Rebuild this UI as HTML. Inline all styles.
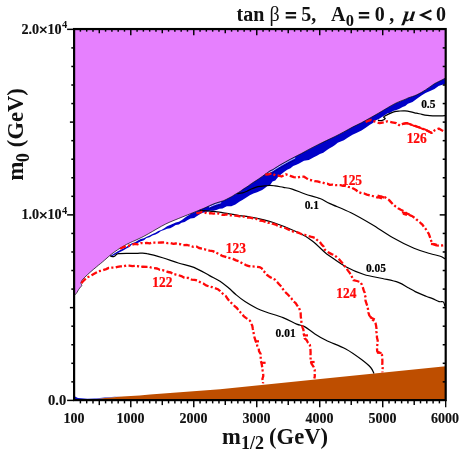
<!DOCTYPE html>
<html><head><meta charset="utf-8"><title>chart</title>
<style>
html,body{margin:0;padding:0;background:#fff;}
body{width:460px;height:457px;overflow:hidden;font-family:"Liberation Serif",serif;}
svg{display:block;will-change:transform;}
</style></head><body>
<svg width="460" height="457" viewBox="0 0 460 457">
<rect width="460" height="457" fill="#fff"/>
<path d="M74.1 29.1 L445.7 29.1 L445.7 77.8 L443.0 79.4 L438.6 81.6 L434.3 83.8 L429.9 86.9 L425.5 89.9 L421.1 92.6 L416.8 94.8 L412.4 96.5 L408.0 98.0 L405.0 99.4 L396.3 102.9 L387.5 107.8 L378.8 113.0 L370.0 118.0 L361.3 122.8 L352.5 127.1 L343.8 131.9 L335.0 136.5 L326.3 140.6 L317.5 144.9 L308.8 149.4 L304.0 152.1 L299.0 154.7 L290.3 159.2 L281.5 164.1 L275.0 168.1 L272.8 169.5 L270.0 170.8 L265.0 174.4 L260.0 178.0 L256.9 180.1 L251.3 183.7 L248.1 186.1 L242.5 189.6 L240.0 191.5 L233.8 195.2 L231.3 196.8 L225.0 200.0 L222.5 201.0 L213.8 203.8 L205.0 207.8 L196.3 211.4 L187.5 214.9 L178.8 218.4 L170.0 222.0 L161.3 226.3 L152.5 231.4 L143.8 236.3 L135.0 240.5 L130.6 242.4 L126.3 244.5 L121.9 247.1 L117.5 249.8 L113.1 252.9 L108.8 256.4 L104.4 260.3 L100.6 263.5 L96.3 267.0 L90.1 272.3 L84.9 277.1 L81.8 280.6 L81.0 283.4 L81.8 285.4 L80.5 287.1 L78.8 289.3 L77.0 292.4 L75.3 294.6 L74.3 295.2 Z" fill="#e680fe"/>
<path d="M190.0 214.2 L196.3 211.4 L205.0 207.8 L213.8 203.8 L222.5 201.0 L225.0 200.0 L231.3 196.8 L233.8 195.2 L240.0 191.5 L242.5 189.6 L248.1 186.1 L251.3 183.7 L256.9 180.1 L260.0 178.0 L265.0 174.4 L270.0 170.8 L272.8 169.5 L275.0 168.1 L281.5 164.1 L290.3 159.2 L299.0 154.7 L304.0 152.1 L308.8 149.4 L317.5 144.9 L326.3 140.6 L335.0 136.5 L343.8 131.9 L352.5 127.1 L361.3 122.8 L370.0 118.0 L378.8 113.0 L387.5 107.8 L396.3 102.9 L405.0 99.4 L408.0 98.0 L412.4 96.5 L416.8 94.8 L421.1 92.6 L425.5 89.9 L429.9 86.9 L434.3 83.8 L438.6 81.6 L443.0 79.4 L445.7 77.8 L445.7 84.5 L443.0 84.5 L438.6 86.0 L434.5 89.0 L430.1 91.1 L425.5 93.0 L421.1 95.7 L416.9 98.8 L412.5 102.0 L407.9 103.7 L405.2 106.0 L402.6 106.9 L399.5 108.7 L396.4 110.1 L393.0 110.9 L390.1 112.7 L387.3 113.6 L383.2 116.3 L378.8 119.0 L375.4 120.5 L372.9 123.0 L369.9 124.7 L365.7 127.8 L361.5 130.6 L356.9 132.8 L352.5 134.7 L348.0 137.4 L343.9 140.2 L340.1 141.7 L337.7 142.7 L335.0 144.9 L332.4 146.7 L329.2 148.5 L326.3 150.5 L323.3 152.7 L319.9 154.1 L317.3 155.5 L312.9 157.7 L308.8 160.1 L304.0 160.8 L299.1 163.6 L296.4 164.8 L293.2 165.9 L290.5 168.2 L287.2 169.8 L284.0 171.9 L281.2 174.2 L277.7 177.5 L275.3 180.6 L272.5 181.6 L270.3 184.7 L267.4 186.1 L265.0 187.9 L262.2 190.0 L257.1 192.3 L253.4 193.6 L249.8 195.2 L245.2 198.3 L242.4 199.9 L239.7 201.6 L235.4 204.6 L231.3 206.2 L226.8 206.3 L222.5 208.5 L219.5 208.8 L216.4 209.9 L213.1 210.7 L209.9 210.8 L205.0 212.2 L201.9 213.0 L198.6 215.0 L196.3 216.4 Z" fill="#0000c8"/>
<path d="M110.5 256.0 L113.4 253.9 L117.5 251.6 L120.3 249.9 L123.3 248.5 L126.3 246.9 L129.1 244.9 L131.9 243.2 L135.1 242.2 L137.9 240.5 L140.8 239.1 L143.9 238.3 L146.7 236.7 L149.7 235.6 L152.5 234.0 L155.5 232.7 L158.3 231.1 L161.3 229.9 L164.3 228.3 L167.1 226.3 L170.1 224.9 L173.0 223.7 L175.8 222.4 L178.9 221.8 L181.9 219.9 L184.8 217.8 L187.3 215.9 L192.0 213.2 L196.3 216.4 L194.2 217.9 L190.5 218.6 L187.3 220.3 L184.6 222.1 L181.5 222.7 L178.9 224.5 L175.7 225.0 L173.0 226.8 L170.2 228.2 L167.0 228.7 L164.1 229.9 L161.0 231.1 L158.4 233.1 L155.5 234.5 L152.4 235.6 L149.6 237.2 L146.5 238.1 L144.0 240.2 L140.9 241.2 L138.1 242.8 L135.0 243.7 L131.8 244.6 L129.4 247.1 L126.4 248.5 L123.6 250.3 L120.5 251.8 L117.6 253.3 L113.5 255.4 L110.5 257.0 Z" fill="#0000c8"/>
<path d="M74.3 295.2 C74.5 295.1 74.8 295.1 75.3 294.6 C75.8 294.1 76.4 293.3 77.0 292.4 C77.6 291.5 78.2 290.2 78.8 289.3 C79.4 288.4 80.0 287.8 80.5 287.1 C81.0 286.5 81.7 286.0 81.8 285.4 C81.9 284.8 81.0 284.2 81.0 283.4 C81.0 282.6 81.1 281.7 81.8 280.6 C82.5 279.6 83.5 278.5 84.9 277.1 C86.3 275.7 88.2 274.0 90.1 272.3 C92.0 270.6 94.5 268.5 96.3 267.0 C98.0 265.5 99.2 264.6 100.6 263.5 C101.9 262.4 103.0 261.5 104.4 260.3 C105.8 259.1 107.3 257.6 108.8 256.4 C110.2 255.2 111.6 254.0 113.1 252.9 C114.5 251.8 116.0 250.8 117.5 249.8 C119.0 248.8 120.4 248.0 121.9 247.1 C123.4 246.2 124.8 245.3 126.3 244.5 C127.8 243.7 129.2 243.1 130.6 242.4 C132.0 241.7 132.8 241.5 135.0 240.5 C137.2 239.5 140.9 237.8 143.8 236.3 C146.7 234.8 149.6 233.1 152.5 231.4 C155.4 229.7 158.4 227.9 161.3 226.3 C164.2 224.7 167.1 223.3 170.0 222.0 C172.9 220.7 175.9 219.6 178.8 218.4 C181.7 217.2 184.6 216.1 187.5 214.9 C190.4 213.7 193.4 212.6 196.3 211.4 C199.2 210.2 202.1 209.1 205.0 207.8 C207.9 206.5 210.9 204.9 213.8 203.8 C216.7 202.7 220.6 201.6 222.5 201.0 C224.4 200.4 223.5 200.7 225.0 200.0 C226.5 199.3 229.8 197.6 231.3 196.8 C232.8 196.0 232.4 196.1 233.8 195.2 C235.2 194.3 238.6 192.4 240.0 191.5 C241.4 190.6 241.2 190.5 242.5 189.6 C243.8 188.7 246.6 187.1 248.1 186.1 C249.6 185.1 249.8 184.7 251.3 183.7 C252.8 182.7 255.4 181.0 256.9 180.1 C258.3 179.2 258.6 178.9 260.0 178.0 C261.4 177.1 263.3 175.6 265.0 174.4 C266.7 173.2 268.7 171.6 270.0 170.8 C271.3 170.0 272.0 169.9 272.8 169.5 C273.6 169.1 273.6 169.0 275.0 168.1 C276.4 167.2 278.9 165.6 281.5 164.1 C284.1 162.6 287.4 160.8 290.3 159.2 C293.2 157.6 296.7 155.9 299.0 154.7 C301.3 153.5 302.4 153.0 304.0 152.1 C305.6 151.2 306.6 150.6 308.8 149.4 C311.1 148.2 314.6 146.4 317.5 144.9 C320.4 143.4 323.4 142.0 326.3 140.6 C329.2 139.2 332.1 137.9 335.0 136.5 C337.9 135.1 340.9 133.5 343.8 131.9 C346.7 130.3 349.6 128.6 352.5 127.1 C355.4 125.6 358.4 124.3 361.3 122.8 C364.2 121.3 367.1 119.6 370.0 118.0 C372.9 116.4 375.9 114.7 378.8 113.0 C381.7 111.3 384.6 109.5 387.5 107.8 C390.4 106.1 393.4 104.3 396.3 102.9 C399.2 101.5 403.1 100.2 405.0 99.4 C406.9 98.6 406.8 98.5 408.0 98.0 C409.2 97.5 410.9 97.0 412.4 96.5 C413.9 96.0 415.4 95.5 416.8 94.8 C418.2 94.1 419.7 93.4 421.1 92.6 C422.6 91.8 424.0 90.9 425.5 89.9 C427.0 89.0 428.4 87.9 429.9 86.9 C431.4 85.9 432.9 84.7 434.3 83.8 C435.8 82.9 437.2 82.3 438.6 81.6 C440.1 80.9 441.8 80.0 443.0 79.4 C444.2 78.8 445.2 78.1 445.7 77.8" fill="none" stroke="#000" stroke-width="0.7"/>
<path d="M268.5 173.1 L270.0 172.1 L272.8 170.8 L275.0 169.3 L276.8 168.2 L279.0 166.8 L281.5 165.3 L283.1 164.4 L284.9 163.4 L286.7 162.4 L288.5 161.4 L290.3 160.4 L292.6 159.3 L294.9 158.1" fill="none" stroke="#fff" stroke-width="0.9" stroke-linecap="round" opacity="0.9"/>
<path d="M268.5 175.1 L270.0 174.1 L272.8 172.8 L275.0 171.3 L276.8 170.2 L279.0 168.8 L281.5 167.3 L283.1 166.4 L284.9 165.4 L286.7 164.4 L288.5 163.4 L290.3 162.4 L292.6 161.3 L294.9 160.1" fill="none" stroke="#000" stroke-width="0.4" opacity="0.7"/>
<path d="M209.4 207.0 L211.6 206.0 L213.8 205.1 L216.1 204.2 L218.5 203.5 L220.8 202.8" fill="none" stroke="#fff" stroke-width="0.9" stroke-linecap="round" opacity="0.9"/>
<path d="M209.4 209.0 L211.6 208.0 L213.8 207.1 L216.1 206.2 L218.5 205.5 L220.8 204.8" fill="none" stroke="#000" stroke-width="0.4" opacity="0.7"/>
<path d="M86.0 400.5 L92.0 399.4 L104.8 398.0 L122.2 396.6 L139.6 395.4 L150.0 394.5 L180.0 392.2 L220.0 389.3 L330.0 378.0 L445.7 366.2 L445.7 400.5 Z" fill="#be4e00"/>
<path d="M75 396.6 L78 397.9 L87.4 398.8 L95 398.5 L104.8 397.5 L122.2 396.2 L104.8 397.9 L95 399.0 L89 399.9 L75 399.9 Z" fill="#0a10c8"/>
<path d="M377.9 120.2 C378.5 120.3 380.3 120.9 381.5 120.6 C382.7 120.3 384.8 119.2 385.2 118.6 C385.6 118.0 383.7 117.6 383.6 117.2 C383.6 116.8 383.5 116.9 384.9 116.1 C386.3 115.3 390.0 113.4 391.9 112.6 C393.8 111.8 394.9 111.6 396.3 111.3 C397.7 111.0 398.6 111.1 400.0 111.0 C401.4 110.9 403.2 110.8 405.0 110.9 C406.8 111.0 409.0 111.4 410.9 111.8 C412.8 112.2 414.6 112.8 416.4 113.2 C418.2 113.6 420.1 113.9 421.9 114.3 C423.7 114.7 425.6 115.1 427.4 115.4 C429.2 115.7 431.0 115.8 432.8 115.9 C434.6 116.0 436.3 115.9 438.3 115.9 C440.3 115.9 443.9 115.7 445.0 115.7" fill="none" stroke="#000" stroke-width="1.2" stroke-linejoin="round"/>
<path d="M237.3 193.6 C238.2 193.5 240.9 193.3 242.5 192.9 C244.1 192.5 245.4 191.8 246.9 191.2 C248.4 190.5 249.9 189.7 251.3 189.0 C252.8 188.3 254.2 187.7 255.6 187.3 C257.1 186.9 258.4 186.6 260.0 186.4 C261.6 186.2 263.3 186.1 265.0 185.9 C266.7 185.7 268.3 185.4 270.0 185.4 C271.7 185.4 272.8 185.6 275.0 185.9 C277.2 186.2 280.6 186.9 283.5 187.4 C286.4 187.9 288.6 188.0 292.2 189.1 C295.8 190.2 300.4 192.4 305.0 194.0 C309.6 195.6 315.8 196.9 320.0 198.5 C324.2 200.1 324.8 201.2 330.0 203.6 C335.2 206.0 344.0 209.3 351.0 212.8 C358.0 216.3 365.0 220.4 372.0 224.6 C379.0 228.8 386.0 233.9 393.0 237.8 C400.0 241.8 407.9 245.7 414.0 248.3 C420.1 250.9 425.4 252.2 429.8 253.5 C434.2 254.8 437.8 255.3 440.3 256.2 C442.8 257.1 444.2 258.4 445.0 258.8" fill="none" stroke="#000" stroke-width="1.2" stroke-linejoin="round"/>
<path d="M199.6 210.3 C201.9 210.5 209.7 211.0 213.5 211.4 C217.3 211.8 217.8 211.9 222.2 212.6 C226.5 213.3 235.0 214.9 239.6 215.6 C244.2 216.3 244.5 215.9 250.0 217.0 C255.5 218.1 264.4 219.7 272.5 222.3 C280.6 224.9 292.2 229.7 298.8 232.8 C305.4 235.9 307.6 237.4 312.0 240.7 C316.4 244.0 322.0 249.9 325.0 252.5 C328.0 255.1 326.5 253.8 330.0 256.2 C333.5 258.6 340.1 263.6 345.8 266.7 C351.5 269.8 357.9 272.5 364.0 274.5 C370.1 276.5 376.8 277.2 382.5 278.5 C388.2 279.8 393.9 280.8 398.3 282.4 C402.7 284.0 406.0 286.5 408.8 288.0 C411.6 289.5 412.3 290.2 415.2 291.6 C418.1 293.0 423.2 295.1 426.1 296.3 C429.0 297.5 430.4 297.7 432.6 298.6 C434.8 299.5 437.3 301.1 439.1 301.6 C440.9 302.2 442.3 301.1 443.3 301.9 C444.3 302.7 444.7 305.7 445.0 306.5" fill="none" stroke="#000" stroke-width="1.2" stroke-linejoin="round"/>
<path d="M110.3 255.6 C110.6 255.8 111.5 256.5 112.2 256.6 C112.9 256.7 114.0 256.5 114.6 256.2 C115.2 255.9 115.2 255.4 115.8 255.0 C116.4 254.6 116.7 254.0 118.4 253.7 C120.2 253.4 123.5 253.4 126.3 253.4 C129.1 253.4 132.7 253.4 135.0 253.4 C137.3 253.4 138.0 253.2 140.0 253.2 C142.0 253.2 143.2 252.8 147.0 253.6 C150.8 254.3 157.4 256.1 162.6 257.7 C167.8 259.3 173.1 261.4 178.3 263.0 C183.5 264.6 188.7 265.3 193.9 267.4 C199.1 269.5 205.2 273.3 209.6 275.6 C213.9 277.9 216.8 279.1 220.0 281.2 C223.2 283.3 226.1 285.8 228.7 288.0 C231.3 290.2 233.1 292.2 235.8 294.5 C238.5 296.8 240.9 298.9 245.0 301.5 C249.1 304.1 254.2 307.3 260.5 310.0 C266.8 312.7 277.0 315.2 283.0 317.6 C289.0 320.0 293.1 322.6 296.7 324.1 C300.3 325.6 301.6 325.0 304.5 326.6 C307.4 328.2 310.7 331.2 314.3 333.5 C317.9 335.8 320.8 337.7 326.0 340.3 C331.2 342.9 339.9 345.8 345.8 349.0 C351.7 352.2 357.4 356.5 361.5 359.6 C365.6 362.7 368.6 365.2 370.7 367.5 C372.8 369.8 373.4 372.5 374.0 373.5" fill="none" stroke="#000" stroke-width="1.2" stroke-linejoin="round"/>
<path d="M81.4 283.2 L82.8 281.5 L85.0 279.4 L87.2 277.4 L90.3 276.2 L93.3 274.2 L96.4 272.5 L98.8 271.2 L101.6 270.7 L103.8 269.9 L106.2 269.1 L108.7 267.9 L111.6 267.7 L114.6 267.7 L117.5 266.9 L120.4 266.3 L123.4 266.3 L126.3 265.6 L129.3 265.7 L132.4 266.1 L135.0 265.9 L137.6 266.1 L140.0 267.1 L142.8 266.6 L147.0 266.9 L149.2 266.8 L151.5 267.7 L154.3 268.1 L157.1 268.5 L159.8 269.8 L162.6 270.1 L165.3 270.8 L167.9 272.0 L170.8 272.5 L173.3 274.0 L175.9 274.6 L178.3 275.1 L181.3 276.1 L183.8 277.5 L186.3 277.9 L188.8 278.0 L191.6 279.6 L194.6 279.8 L197.5 280.6 L200.3 282.2 L203.3 283.5 L206.0 285.4 L209.1 286.4 L212.2 287.1 L214.8 288.0 L217.8 289.2 L219.9 290.8 L223.3 294.3 L225.7 295.9 L227.8 299.1 L229.2 300.8 L231.0 302.7 L233.1 304.4 L234.9 306.4 L236.9 308.0 L238.6 310.3 L240.4 312.3 L242.4 314.0 L243.6 316.1 L245.9 317.9 L248.0 319.3 L249.9 320.6 L251.1 323.2 L252.3 325.8 L252.8 328.7 L253.5 332.2 L253.9 335.3 L254.7 338.2 L255.7 341.3 L256.6 343.3 L257.3 345.9 L258.7 348.3 L259.0 351.1 L260.6 353.9 L260.7 357.2 L260.6 360.3 L261.4 362.8 L261.9 365.2 L262.3 368.0 L262.6 370.2 L263.1 372.9 L263.3 376.0 L262.4 379.0 L263.1 381.6 L263.0 383.4" fill="none" stroke="#ff0808" stroke-width="2.3" stroke-dasharray="6.3 2.2 2.1 2.4" stroke-linejoin="round"/>
<path d="M120.1 248.8 L122.8 247.4 L126.2 246.2 L130.6 245.2 L134.9 243.9 L137.7 244.3 L140.7 243.1 L143.8 243.3 L146.7 242.9 L149.6 243.3 L152.5 242.5 L155.4 242.6 L158.4 242.6 L161.3 242.5 L164.4 242.4 L167.5 243.1 L170.0 242.9 L173.5 243.8 L175.7 243.5 L178.3 243.9 L181.1 244.3 L183.4 245.1 L187.2 245.0 L190.6 245.8 L193.3 246.9 L196.5 246.6 L199.0 248.0 L202.0 248.6 L204.6 249.2 L206.9 250.2 L209.5 250.7 L212.9 251.1 L215.9 252.6 L220.1 254.7 L222.1 255.8 L224.8 256.6 L227.6 257.7 L230.6 258.1 L233.0 258.9 L236.1 260.4 L238.7 261.2 L240.9 262.4 L243.6 263.8 L245.9 265.1 L248.8 266.1 L252.0 266.4 L255.6 266.6 L259.4 267.1 L261.7 268.3 L263.1 270.9 L265.6 272.7 L267.1 275.0 L269.6 276.9 L272.3 278.2 L275.2 279.8 L277.1 281.9 L279.1 284.3 L281.3 286.6 L283.0 289.3 L284.9 291.7 L287.1 293.8 L289.2 296.0 L291.3 298.2 L293.0 301.0 L295.7 303.2 L297.4 305.8 L299.0 307.8 L300.6 312.0 L300.7 314.3 L300.8 317.1 L301.4 320.0 L301.4 322.5 L301.9 325.2 L302.7 327.8 L303.5 330.0 L303.4 333.1 L304.3 335.9 L304.7 338.3 L306.7 340.2 L308.0 342.7 L309.8 344.8 L310.3 347.5 L310.5 350.1 L310.6 352.7 L310.5 355.0 L310.6 358.3 L310.7 361.5 L311.8 364.2 L313.6 366.9 L314.7 369.9 L314.7 373.1 L314.8 376.3 L314.3 378.5" fill="none" stroke="#ff0808" stroke-width="2.3" stroke-dasharray="6.3 2.2 2.1 2.4" stroke-linejoin="round"/>
<path d="M196.3 213.2 L198.8 213.0 L201.5 212.0 L205.1 212.6 L207.4 213.5 L210.5 213.1 L213.5 213.7 L216.1 213.2 L218.7 213.5 L222.1 214.8 L224.2 214.9 L226.8 214.4 L229.4 215.2 L232.2 215.5 L234.9 215.7 L237.5 215.9 L239.6 216.4 L242.4 216.5 L244.5 216.7 L246.7 217.6 L250.0 217.7 L252.1 218.1 L254.4 218.7 L257.1 219.1 L259.7 220.5 L262.7 220.9 L265.4 221.8 L267.9 222.8 L270.6 222.6 L272.5 223.7 L275.7 224.6 L277.6 225.7 L279.7 226.5 L283.0 227.5 L285.3 228.0 L287.7 229.2 L290.4 230.4 L293.3 231.6 L296.5 232.1 L299.5 233.2 L302.1 234.3 L304.7 234.8 L306.7 235.4 L310.6 236.7 L312.7 237.1 L314.7 237.8 L317.0 239.9 L319.8 241.9 L321.7 244.6 L323.9 246.8 L324.8 249.7 L327.2 251.3 L329.2 252.9 L331.6 254.1 L333.9 255.0 L336.6 257.0 L339.1 259.3 L340.8 261.2 L342.5 263.3 L344.1 265.5 L346.1 267.9 L348.0 270.6 L349.9 273.1 L351.4 275.5 L352.3 277.9 L353.4 280.2 L356.9 281.0 L360.4 282.1 L361.7 284.3 L362.7 287.0 L363.7 290.4 L364.6 292.5 L364.9 295.1 L365.8 297.7 L365.5 300.7 L366.4 303.3 L367.2 305.7 L368.0 309.1 L368.4 312.5 L369.3 315.4 L370.9 317.4 L372.4 319.6 L374.8 321.4 L375.6 323.4 L376.1 325.8 L376.5 328.7 L376.4 331.7 L377.0 334.6 L376.9 337.3 L377.7 340.5 L377.6 343.8 L376.8 346.9 L377.1 349.7 L377.3 351.7 L381.0 353.2 L382.0 354.9 L382.2 357.8 L382.4 361.0 L382.3 364.5 L382.7 367.7 L382.4 370.5 L382.5 372.4" fill="none" stroke="#ff0808" stroke-width="2.3" stroke-dasharray="6.3 2.2 2.1 2.4" stroke-linejoin="round"/>
<path d="M265.3 174.5 L268.4 174.4 L271.9 173.3 L275.3 175.2 L278.4 175.6 L281.5 176.5 L285.9 174.4 L290.3 175.9 L293.8 177.2 L297.3 177.5 L301.7 176.5 L304.1 176.7 L306.7 178.4 L309.5 179.9 L312.0 180.4 L314.6 181.2 L317.4 181.4 L320.0 182.2 L322.6 182.5 L325.0 183.5 L327.5 183.7 L329.9 184.9 L332.7 184.6 L335.4 185.1 L338.0 185.1 L340.5 185.2 L343.1 185.9 L345.4 185.9 L348.3 186.9 L350.8 187.3 L353.3 188.6 L356.0 190.0 L358.5 192.1 L361.5 193.1 L364.2 193.5 L366.9 194.6 L369.7 195.4 L372.5 196.0 L375.1 196.7 L377.3 197.5 L380.3 196.8 L382.5 196.6 L384.9 197.2 L386.7 198.6 L389.1 200.1 L391.2 202.4 L393.3 204.6 L395.5 206.4 L398.1 208.3 L400.8 209.8 L403.5 211.0 L405.9 212.9 L408.1 214.0 L410.2 215.4 L412.5 216.3 L414.5 217.8 L416.5 219.6 L418.6 220.9 L420.4 222.8 L422.4 224.6 L423.9 226.9 L425.7 228.9 L426.9 231.3 L428.8 233.8 L429.9 236.9 L430.9 239.9 L431.8 242.7 L433.8 244.1 L436.5 245.4 L439.8 245.6 L442.9 245.4 L445.0 245.1" fill="none" stroke="#ff0808" stroke-width="2.3" stroke-dasharray="6.3 2.2 2.1 2.4" stroke-linejoin="round"/>
<path d="M365.6 121.9 L368.7 120.7 L371.3 119.8 L375.3 121.8 L379.6 123.2 L384.0 122.2 L387.5 121.3 L392.0 122.3 L396.4 123.2 L400.0 125.7 L403.1 123.7 L406.6 123.2 L410.9 124.5 L413.6 125.2 L416.3 126.5 L419.2 127.3 L421.9 128.4 L424.6 129.9 L427.4 130.7 L431.7 132.9 L434.7 130.3 L438.8 128.6 L441.7 130.2 L445.0 131.8" fill="none" stroke="#ff0808" stroke-width="2.3" stroke-dasharray="6.3 2.2 2.1 2.4" stroke-linejoin="round"/>
<path d="M403.3 124.1 L406.6 123.0 L410.9 124.5 L413.5 125.7 L416.4 126.3 L419.1 127.4 L421.9 128.6 L424.8 129.4 L427.4 130.7 L431.7 132.9" fill="none" stroke="#ff0808" stroke-width="1.9" stroke-linejoin="round" stroke-linecap="round"/>
<line x1="255.4" y1="341.3" x2="259.0" y2="341.3" stroke="#ff0808" stroke-width="2.2"/>
<line x1="261.2" y1="362.8" x2="265.6" y2="362.8" stroke="#ff0808" stroke-width="2.2"/>
<line x1="303.0" y1="335.4" x2="308.0" y2="335.4" stroke="#ff0808" stroke-width="2.2"/>
<line x1="310.2" y1="362.0" x2="314.6" y2="362.0" stroke="#ff0808" stroke-width="2.2"/>
<line x1="370.2" y1="317.2" x2="374.8" y2="319.4" stroke="#ff0808" stroke-width="2.2"/>
<line x1="377.0" y1="352.6" x2="381.6" y2="353.0" stroke="#ff0808" stroke-width="2.2"/>
<line x1="377.5" y1="195.6" x2="384.5" y2="197.6" stroke="#ff0808" stroke-width="2.2"/>
<line x1="377.8" y1="197.0" x2="382.0" y2="198.4" stroke="#ff0808" stroke-width="2.2"/>
<line x1="402.0" y1="212.2" x2="409.5" y2="214.4" stroke="#ff0808" stroke-width="2.2"/>
<line x1="403.0" y1="213.6" x2="407.0" y2="215.0" stroke="#ff0808" stroke-width="2.2"/>
<line x1="431.0" y1="243.8" x2="437.0" y2="244.8" stroke="#ff0808" stroke-width="2.2"/>
<line x1="80.40" y1="400.10" x2="80.40" y2="403.40" stroke="#000" stroke-width="1.45"/>
<line x1="80.40" y1="29.05" x2="80.40" y2="31.65" stroke="#000" stroke-width="1.45"/>
<line x1="86.70" y1="400.10" x2="86.70" y2="403.40" stroke="#000" stroke-width="1.45"/>
<line x1="86.70" y1="29.05" x2="86.70" y2="31.65" stroke="#000" stroke-width="1.45"/>
<line x1="92.99" y1="400.10" x2="92.99" y2="403.40" stroke="#000" stroke-width="1.45"/>
<line x1="92.99" y1="29.05" x2="92.99" y2="31.65" stroke="#000" stroke-width="1.45"/>
<line x1="99.29" y1="400.10" x2="99.29" y2="405.10" stroke="#000" stroke-width="1.45"/>
<line x1="99.29" y1="29.05" x2="99.29" y2="33.25" stroke="#000" stroke-width="1.45"/>
<line x1="105.59" y1="400.10" x2="105.59" y2="403.40" stroke="#000" stroke-width="1.45"/>
<line x1="105.59" y1="29.05" x2="105.59" y2="31.65" stroke="#000" stroke-width="1.45"/>
<line x1="111.89" y1="400.10" x2="111.89" y2="403.40" stroke="#000" stroke-width="1.45"/>
<line x1="111.89" y1="29.05" x2="111.89" y2="31.65" stroke="#000" stroke-width="1.45"/>
<line x1="118.19" y1="400.10" x2="118.19" y2="403.40" stroke="#000" stroke-width="1.45"/>
<line x1="118.19" y1="29.05" x2="118.19" y2="31.65" stroke="#000" stroke-width="1.45"/>
<line x1="124.49" y1="400.10" x2="124.49" y2="403.40" stroke="#000" stroke-width="1.45"/>
<line x1="124.49" y1="29.05" x2="124.49" y2="31.65" stroke="#000" stroke-width="1.45"/>
<line x1="130.78" y1="400.10" x2="130.78" y2="407.30" stroke="#000" stroke-width="1.45"/>
<line x1="130.78" y1="29.05" x2="130.78" y2="35.25" stroke="#000" stroke-width="1.45"/>
<line x1="137.08" y1="400.10" x2="137.08" y2="403.40" stroke="#000" stroke-width="1.45"/>
<line x1="137.08" y1="29.05" x2="137.08" y2="31.65" stroke="#000" stroke-width="1.45"/>
<line x1="143.38" y1="400.10" x2="143.38" y2="403.40" stroke="#000" stroke-width="1.45"/>
<line x1="143.38" y1="29.05" x2="143.38" y2="31.65" stroke="#000" stroke-width="1.45"/>
<line x1="149.68" y1="400.10" x2="149.68" y2="403.40" stroke="#000" stroke-width="1.45"/>
<line x1="149.68" y1="29.05" x2="149.68" y2="31.65" stroke="#000" stroke-width="1.45"/>
<line x1="155.98" y1="400.10" x2="155.98" y2="403.40" stroke="#000" stroke-width="1.45"/>
<line x1="155.98" y1="29.05" x2="155.98" y2="31.65" stroke="#000" stroke-width="1.45"/>
<line x1="162.28" y1="400.10" x2="162.28" y2="405.10" stroke="#000" stroke-width="1.45"/>
<line x1="162.28" y1="29.05" x2="162.28" y2="33.25" stroke="#000" stroke-width="1.45"/>
<line x1="168.57" y1="400.10" x2="168.57" y2="403.40" stroke="#000" stroke-width="1.45"/>
<line x1="168.57" y1="29.05" x2="168.57" y2="31.65" stroke="#000" stroke-width="1.45"/>
<line x1="174.87" y1="400.10" x2="174.87" y2="403.40" stroke="#000" stroke-width="1.45"/>
<line x1="174.87" y1="29.05" x2="174.87" y2="31.65" stroke="#000" stroke-width="1.45"/>
<line x1="181.17" y1="400.10" x2="181.17" y2="403.40" stroke="#000" stroke-width="1.45"/>
<line x1="181.17" y1="29.05" x2="181.17" y2="31.65" stroke="#000" stroke-width="1.45"/>
<line x1="187.47" y1="400.10" x2="187.47" y2="403.40" stroke="#000" stroke-width="1.45"/>
<line x1="187.47" y1="29.05" x2="187.47" y2="31.65" stroke="#000" stroke-width="1.45"/>
<line x1="193.77" y1="400.10" x2="193.77" y2="407.30" stroke="#000" stroke-width="1.45"/>
<line x1="193.77" y1="29.05" x2="193.77" y2="35.25" stroke="#000" stroke-width="1.45"/>
<line x1="200.07" y1="400.10" x2="200.07" y2="403.40" stroke="#000" stroke-width="1.45"/>
<line x1="200.07" y1="29.05" x2="200.07" y2="31.65" stroke="#000" stroke-width="1.45"/>
<line x1="206.36" y1="400.10" x2="206.36" y2="403.40" stroke="#000" stroke-width="1.45"/>
<line x1="206.36" y1="29.05" x2="206.36" y2="31.65" stroke="#000" stroke-width="1.45"/>
<line x1="212.66" y1="400.10" x2="212.66" y2="403.40" stroke="#000" stroke-width="1.45"/>
<line x1="212.66" y1="29.05" x2="212.66" y2="31.65" stroke="#000" stroke-width="1.45"/>
<line x1="218.96" y1="400.10" x2="218.96" y2="403.40" stroke="#000" stroke-width="1.45"/>
<line x1="218.96" y1="29.05" x2="218.96" y2="31.65" stroke="#000" stroke-width="1.45"/>
<line x1="225.26" y1="400.10" x2="225.26" y2="405.10" stroke="#000" stroke-width="1.45"/>
<line x1="225.26" y1="29.05" x2="225.26" y2="33.25" stroke="#000" stroke-width="1.45"/>
<line x1="231.56" y1="400.10" x2="231.56" y2="403.40" stroke="#000" stroke-width="1.45"/>
<line x1="231.56" y1="29.05" x2="231.56" y2="31.65" stroke="#000" stroke-width="1.45"/>
<line x1="237.86" y1="400.10" x2="237.86" y2="403.40" stroke="#000" stroke-width="1.45"/>
<line x1="237.86" y1="29.05" x2="237.86" y2="31.65" stroke="#000" stroke-width="1.45"/>
<line x1="244.15" y1="400.10" x2="244.15" y2="403.40" stroke="#000" stroke-width="1.45"/>
<line x1="244.15" y1="29.05" x2="244.15" y2="31.65" stroke="#000" stroke-width="1.45"/>
<line x1="250.45" y1="400.10" x2="250.45" y2="403.40" stroke="#000" stroke-width="1.45"/>
<line x1="250.45" y1="29.05" x2="250.45" y2="31.65" stroke="#000" stroke-width="1.45"/>
<line x1="256.75" y1="400.10" x2="256.75" y2="407.30" stroke="#000" stroke-width="1.45"/>
<line x1="256.75" y1="29.05" x2="256.75" y2="35.25" stroke="#000" stroke-width="1.45"/>
<line x1="263.05" y1="400.10" x2="263.05" y2="403.40" stroke="#000" stroke-width="1.45"/>
<line x1="263.05" y1="29.05" x2="263.05" y2="31.65" stroke="#000" stroke-width="1.45"/>
<line x1="269.35" y1="400.10" x2="269.35" y2="403.40" stroke="#000" stroke-width="1.45"/>
<line x1="269.35" y1="29.05" x2="269.35" y2="31.65" stroke="#000" stroke-width="1.45"/>
<line x1="275.65" y1="400.10" x2="275.65" y2="403.40" stroke="#000" stroke-width="1.45"/>
<line x1="275.65" y1="29.05" x2="275.65" y2="31.65" stroke="#000" stroke-width="1.45"/>
<line x1="281.94" y1="400.10" x2="281.94" y2="403.40" stroke="#000" stroke-width="1.45"/>
<line x1="281.94" y1="29.05" x2="281.94" y2="31.65" stroke="#000" stroke-width="1.45"/>
<line x1="288.24" y1="400.10" x2="288.24" y2="405.10" stroke="#000" stroke-width="1.45"/>
<line x1="288.24" y1="29.05" x2="288.24" y2="33.25" stroke="#000" stroke-width="1.45"/>
<line x1="294.54" y1="400.10" x2="294.54" y2="403.40" stroke="#000" stroke-width="1.45"/>
<line x1="294.54" y1="29.05" x2="294.54" y2="31.65" stroke="#000" stroke-width="1.45"/>
<line x1="300.84" y1="400.10" x2="300.84" y2="403.40" stroke="#000" stroke-width="1.45"/>
<line x1="300.84" y1="29.05" x2="300.84" y2="31.65" stroke="#000" stroke-width="1.45"/>
<line x1="307.14" y1="400.10" x2="307.14" y2="403.40" stroke="#000" stroke-width="1.45"/>
<line x1="307.14" y1="29.05" x2="307.14" y2="31.65" stroke="#000" stroke-width="1.45"/>
<line x1="313.44" y1="400.10" x2="313.44" y2="403.40" stroke="#000" stroke-width="1.45"/>
<line x1="313.44" y1="29.05" x2="313.44" y2="31.65" stroke="#000" stroke-width="1.45"/>
<line x1="319.73" y1="400.10" x2="319.73" y2="407.30" stroke="#000" stroke-width="1.45"/>
<line x1="319.73" y1="29.05" x2="319.73" y2="35.25" stroke="#000" stroke-width="1.45"/>
<line x1="326.03" y1="400.10" x2="326.03" y2="403.40" stroke="#000" stroke-width="1.45"/>
<line x1="326.03" y1="29.05" x2="326.03" y2="31.65" stroke="#000" stroke-width="1.45"/>
<line x1="332.33" y1="400.10" x2="332.33" y2="403.40" stroke="#000" stroke-width="1.45"/>
<line x1="332.33" y1="29.05" x2="332.33" y2="31.65" stroke="#000" stroke-width="1.45"/>
<line x1="338.63" y1="400.10" x2="338.63" y2="403.40" stroke="#000" stroke-width="1.45"/>
<line x1="338.63" y1="29.05" x2="338.63" y2="31.65" stroke="#000" stroke-width="1.45"/>
<line x1="344.93" y1="400.10" x2="344.93" y2="403.40" stroke="#000" stroke-width="1.45"/>
<line x1="344.93" y1="29.05" x2="344.93" y2="31.65" stroke="#000" stroke-width="1.45"/>
<line x1="351.23" y1="400.10" x2="351.23" y2="405.10" stroke="#000" stroke-width="1.45"/>
<line x1="351.23" y1="29.05" x2="351.23" y2="33.25" stroke="#000" stroke-width="1.45"/>
<line x1="357.52" y1="400.10" x2="357.52" y2="403.40" stroke="#000" stroke-width="1.45"/>
<line x1="357.52" y1="29.05" x2="357.52" y2="31.65" stroke="#000" stroke-width="1.45"/>
<line x1="363.82" y1="400.10" x2="363.82" y2="403.40" stroke="#000" stroke-width="1.45"/>
<line x1="363.82" y1="29.05" x2="363.82" y2="31.65" stroke="#000" stroke-width="1.45"/>
<line x1="370.12" y1="400.10" x2="370.12" y2="403.40" stroke="#000" stroke-width="1.45"/>
<line x1="370.12" y1="29.05" x2="370.12" y2="31.65" stroke="#000" stroke-width="1.45"/>
<line x1="376.42" y1="400.10" x2="376.42" y2="403.40" stroke="#000" stroke-width="1.45"/>
<line x1="376.42" y1="29.05" x2="376.42" y2="31.65" stroke="#000" stroke-width="1.45"/>
<line x1="382.72" y1="400.10" x2="382.72" y2="407.30" stroke="#000" stroke-width="1.45"/>
<line x1="382.72" y1="29.05" x2="382.72" y2="35.25" stroke="#000" stroke-width="1.45"/>
<line x1="389.02" y1="400.10" x2="389.02" y2="403.40" stroke="#000" stroke-width="1.45"/>
<line x1="389.02" y1="29.05" x2="389.02" y2="31.65" stroke="#000" stroke-width="1.45"/>
<line x1="395.31" y1="400.10" x2="395.31" y2="403.40" stroke="#000" stroke-width="1.45"/>
<line x1="395.31" y1="29.05" x2="395.31" y2="31.65" stroke="#000" stroke-width="1.45"/>
<line x1="401.61" y1="400.10" x2="401.61" y2="403.40" stroke="#000" stroke-width="1.45"/>
<line x1="401.61" y1="29.05" x2="401.61" y2="31.65" stroke="#000" stroke-width="1.45"/>
<line x1="407.91" y1="400.10" x2="407.91" y2="403.40" stroke="#000" stroke-width="1.45"/>
<line x1="407.91" y1="29.05" x2="407.91" y2="31.65" stroke="#000" stroke-width="1.45"/>
<line x1="414.21" y1="400.10" x2="414.21" y2="405.10" stroke="#000" stroke-width="1.45"/>
<line x1="414.21" y1="29.05" x2="414.21" y2="33.25" stroke="#000" stroke-width="1.45"/>
<line x1="420.51" y1="400.10" x2="420.51" y2="403.40" stroke="#000" stroke-width="1.45"/>
<line x1="420.51" y1="29.05" x2="420.51" y2="31.65" stroke="#000" stroke-width="1.45"/>
<line x1="426.81" y1="400.10" x2="426.81" y2="403.40" stroke="#000" stroke-width="1.45"/>
<line x1="426.81" y1="29.05" x2="426.81" y2="31.65" stroke="#000" stroke-width="1.45"/>
<line x1="433.10" y1="400.10" x2="433.10" y2="403.40" stroke="#000" stroke-width="1.45"/>
<line x1="433.10" y1="29.05" x2="433.10" y2="31.65" stroke="#000" stroke-width="1.45"/>
<line x1="439.40" y1="400.10" x2="439.40" y2="403.40" stroke="#000" stroke-width="1.45"/>
<line x1="439.40" y1="29.05" x2="439.40" y2="31.65" stroke="#000" stroke-width="1.45"/>
<line x1="445.70" y1="400.10" x2="445.70" y2="407.30" stroke="#000" stroke-width="1.30"/>
<line x1="74.10" y1="400.40" x2="67.10" y2="400.40" stroke="#000" stroke-width="1.50"/>
<line x1="74.10" y1="381.85" x2="71.30" y2="381.85" stroke="#000" stroke-width="1.50"/>
<line x1="445.70" y1="381.85" x2="442.70" y2="381.85" stroke="#000" stroke-width="1.50"/>
<line x1="74.10" y1="363.30" x2="71.30" y2="363.30" stroke="#000" stroke-width="1.50"/>
<line x1="445.70" y1="363.30" x2="442.70" y2="363.30" stroke="#000" stroke-width="1.50"/>
<line x1="74.10" y1="344.74" x2="71.30" y2="344.74" stroke="#000" stroke-width="1.50"/>
<line x1="445.70" y1="344.74" x2="442.70" y2="344.74" stroke="#000" stroke-width="1.50"/>
<line x1="74.10" y1="326.19" x2="71.30" y2="326.19" stroke="#000" stroke-width="1.50"/>
<line x1="445.70" y1="326.19" x2="442.70" y2="326.19" stroke="#000" stroke-width="1.50"/>
<line x1="74.10" y1="307.64" x2="69.90" y2="307.64" stroke="#000" stroke-width="1.50"/>
<line x1="445.70" y1="307.64" x2="442.70" y2="307.64" stroke="#000" stroke-width="1.50"/>
<line x1="74.10" y1="289.09" x2="71.30" y2="289.09" stroke="#000" stroke-width="1.50"/>
<line x1="445.70" y1="289.09" x2="442.70" y2="289.09" stroke="#000" stroke-width="1.50"/>
<line x1="74.10" y1="270.53" x2="71.30" y2="270.53" stroke="#000" stroke-width="1.50"/>
<line x1="445.70" y1="270.53" x2="442.70" y2="270.53" stroke="#000" stroke-width="1.50"/>
<line x1="74.10" y1="251.98" x2="71.30" y2="251.98" stroke="#000" stroke-width="1.50"/>
<line x1="445.70" y1="251.98" x2="442.70" y2="251.98" stroke="#000" stroke-width="1.50"/>
<line x1="74.10" y1="233.43" x2="71.30" y2="233.43" stroke="#000" stroke-width="1.50"/>
<line x1="445.70" y1="233.43" x2="442.70" y2="233.43" stroke="#000" stroke-width="1.50"/>
<line x1="74.10" y1="214.88" x2="67.10" y2="214.88" stroke="#000" stroke-width="1.50"/>
<line x1="445.70" y1="214.88" x2="439.70" y2="214.88" stroke="#000" stroke-width="1.50"/>
<line x1="74.10" y1="196.32" x2="71.30" y2="196.32" stroke="#000" stroke-width="1.50"/>
<line x1="445.70" y1="196.32" x2="442.70" y2="196.32" stroke="#000" stroke-width="1.50"/>
<line x1="74.10" y1="177.77" x2="71.30" y2="177.77" stroke="#000" stroke-width="1.50"/>
<line x1="445.70" y1="177.77" x2="442.70" y2="177.77" stroke="#000" stroke-width="1.50"/>
<line x1="74.10" y1="159.22" x2="71.30" y2="159.22" stroke="#000" stroke-width="1.50"/>
<line x1="445.70" y1="159.22" x2="442.70" y2="159.22" stroke="#000" stroke-width="1.50"/>
<line x1="74.10" y1="140.67" x2="71.30" y2="140.67" stroke="#000" stroke-width="1.50"/>
<line x1="445.70" y1="140.67" x2="442.70" y2="140.67" stroke="#000" stroke-width="1.50"/>
<line x1="74.10" y1="122.11" x2="69.90" y2="122.11" stroke="#000" stroke-width="1.50"/>
<line x1="445.70" y1="122.11" x2="442.70" y2="122.11" stroke="#000" stroke-width="1.50"/>
<line x1="74.10" y1="103.56" x2="71.30" y2="103.56" stroke="#000" stroke-width="1.50"/>
<line x1="445.70" y1="103.56" x2="442.70" y2="103.56" stroke="#000" stroke-width="1.50"/>
<line x1="74.10" y1="85.01" x2="71.30" y2="85.01" stroke="#000" stroke-width="1.50"/>
<line x1="445.70" y1="85.01" x2="442.70" y2="85.01" stroke="#000" stroke-width="1.50"/>
<line x1="74.10" y1="66.46" x2="71.30" y2="66.46" stroke="#000" stroke-width="1.50"/>
<line x1="445.70" y1="66.46" x2="442.70" y2="66.46" stroke="#000" stroke-width="1.50"/>
<line x1="74.10" y1="47.90" x2="71.30" y2="47.90" stroke="#000" stroke-width="1.50"/>
<line x1="445.70" y1="47.90" x2="442.70" y2="47.90" stroke="#000" stroke-width="1.50"/>
<line x1="74.10" y1="29.35" x2="67.10" y2="29.35" stroke="#000" stroke-width="1.50"/>
<rect x="74.10" y="29.05" width="371.60" height="371.05" fill="none" stroke="#000" stroke-width="2.2"/>
<text x="73.9" y="422.8" font-family="Liberation Serif, serif" font-weight="bold" font-size="14.0" text-anchor="middle" fill="#111" stroke="#111" stroke-width="0.15">100</text>
<text x="130.6" y="422.8" font-family="Liberation Serif, serif" font-weight="bold" font-size="14.0" text-anchor="middle" fill="#111" stroke="#111" stroke-width="0.15">1000</text>
<text x="193.6" y="422.8" font-family="Liberation Serif, serif" font-weight="bold" font-size="14.0" text-anchor="middle" fill="#111" stroke="#111" stroke-width="0.15">2000</text>
<text x="256.6" y="422.8" font-family="Liberation Serif, serif" font-weight="bold" font-size="14.0" text-anchor="middle" fill="#111" stroke="#111" stroke-width="0.15">3000</text>
<text x="319.5" y="422.8" font-family="Liberation Serif, serif" font-weight="bold" font-size="14.0" text-anchor="middle" fill="#111" stroke="#111" stroke-width="0.15">4000</text>
<text x="382.5" y="422.8" font-family="Liberation Serif, serif" font-weight="bold" font-size="14.0" text-anchor="middle" fill="#111" stroke="#111" stroke-width="0.15">5000</text>
<text x="444.9" y="422.8" font-family="Liberation Serif, serif" font-weight="bold" font-size="14.0" text-anchor="middle" fill="#111" stroke="#111" stroke-width="0.15">6000</text>
<text x="66.2" y="405.1" font-family="Liberation Serif, serif" font-weight="bold" font-size="14.6" text-anchor="end" fill="#111" stroke="#111" stroke-width="0.15">0.0</text>
<text x="61.7" y="219.3" font-family="Liberation Serif, serif" font-weight="bold" font-size="14.2" text-anchor="end" fill="#111" stroke="#111" stroke-width="0.15">10</text>
<text x="39.2" y="219.3" font-family="Liberation Serif, serif" font-weight="bold" font-size="14.2" text-anchor="end" fill="#111" stroke="#111" stroke-width="0.15">1.0</text>
<path d="M40.2 212.2 l6.2 6.0 m0 -6.0 l-6.2 6.0" stroke="#111" stroke-width="1.6" fill="none"/>
<text x="67.2" y="213.6" font-family="Liberation Serif, serif" font-weight="bold" font-size="10.5" text-anchor="end" fill="#111">4</text>
<text x="61.7" y="33.8" font-family="Liberation Serif, serif" font-weight="bold" font-size="14.2" text-anchor="end" fill="#111" stroke="#111" stroke-width="0.15">10</text>
<text x="39.2" y="33.8" font-family="Liberation Serif, serif" font-weight="bold" font-size="14.2" text-anchor="end" fill="#111" stroke="#111" stroke-width="0.15">2.0</text>
<path d="M40.2 26.7 l6.2 6.0 m0 -6.0 l-6.2 6.0" stroke="#111" stroke-width="1.6" fill="none"/>
<text x="67.2" y="28.1" font-family="Liberation Serif, serif" font-weight="bold" font-size="10.5" text-anchor="end" fill="#111">4</text>
<text transform="translate(162.4,287.2) scale(0.97,1)" font-family="Liberation Serif, serif" font-weight="bold" font-size="13.8" text-anchor="middle" fill="#ff0808" stroke="#ff0808" stroke-width="0.25">122</text>
<text transform="translate(235.8,252.6) scale(0.97,1)" font-family="Liberation Serif, serif" font-weight="bold" font-size="13.8" text-anchor="middle" fill="#ff0808" stroke="#ff0808" stroke-width="0.25">123</text>
<text transform="translate(346.4,298.4) scale(0.97,1)" font-family="Liberation Serif, serif" font-weight="bold" font-size="13.8" text-anchor="middle" fill="#ff0808" stroke="#ff0808" stroke-width="0.25">124</text>
<text transform="translate(352.0,185.3) scale(0.97,1)" font-family="Liberation Serif, serif" font-weight="bold" font-size="13.8" text-anchor="middle" fill="#ff0808" stroke="#ff0808" stroke-width="0.25">125</text>
<text transform="translate(416.7,142.8) scale(0.97,1)" font-family="Liberation Serif, serif" font-weight="bold" font-size="13.8" text-anchor="middle" fill="#ff0808" stroke="#ff0808" stroke-width="0.25">126</text>
<text transform="translate(428.3,108.1) scale(0.94,1)" font-family="Liberation Serif, serif" font-weight="bold" font-size="12.2" text-anchor="middle" fill="#000" stroke="#000" stroke-width="0.2">0.5</text>
<text transform="translate(311.8,209.3) scale(0.94,1)" font-family="Liberation Serif, serif" font-weight="bold" font-size="12.2" text-anchor="middle" fill="#000" stroke="#000" stroke-width="0.2">0.1</text>
<text transform="translate(375.9,271.7) scale(0.94,1)" font-family="Liberation Serif, serif" font-weight="bold" font-size="12.2" text-anchor="middle" fill="#000" stroke="#000" stroke-width="0.2">0.05</text>
<text transform="translate(285.6,336.5) scale(0.94,1)" font-family="Liberation Serif, serif" font-weight="bold" font-size="12.2" text-anchor="middle" fill="#000" stroke="#000" stroke-width="0.2">0.01</text>
<text x="236.6" y="20.6" font-family="Liberation Serif, serif" font-weight="bold" font-size="20.0" fill="#111" >tan</text>
<text x="269.6" y="20.6" font-family="Liberation Serif, serif" font-weight="bold" font-size="20.0" fill="#111" style="font-weight:normal">β</text>
<rect x="285.7" y="12.0" width="10.4" height="2.2" fill="#111"/>
<rect x="285.7" y="16.3" width="10.4" height="2.2" fill="#111"/>
<text x="301.2" y="20.6" font-family="Liberation Serif, serif" font-weight="bold" font-size="20.0" fill="#111" >5,</text>
<text x="331.0" y="20.6" font-family="Liberation Serif, serif" font-weight="bold" font-size="20.0" fill="#111" >A</text>
<text x="345.8" y="25.5" font-family="Liberation Serif, serif" font-weight="bold" font-size="16.5" fill="#111" >0</text>
<rect x="358.8" y="12.0" width="10.4" height="2.2" fill="#111"/>
<rect x="358.8" y="16.3" width="10.4" height="2.2" fill="#111"/>
<text x="374.8" y="20.6" font-family="Liberation Serif, serif" font-weight="bold" font-size="20.0" fill="#111" >0</text>
<text x="389.3" y="20.6" font-family="Liberation Serif, serif" font-weight="bold" font-size="20.0" fill="#111" >,</text>
<text transform="translate(402.6,20.6) skewX(-7) scale(1.08,1)" font-family="Liberation Serif, serif" font-weight="bold" font-size="20.5" font-style="italic" fill="#111">μ</text>
<path d="M431.4 10.5 L421.4 15.1 L431.4 19.7" fill="none" stroke="#111" stroke-width="2.2" stroke-linejoin="miter"/>
<text x="436.0" y="20.6" font-family="Liberation Serif, serif" font-weight="bold" font-size="20.0" fill="#111" >0</text>
<g transform="translate(221.9,444.3) scale(0.970,1)" font-family="Liberation Serif, serif" font-weight="bold" fill="#111">
<text x="0" y="0" font-size="23.3">m</text>
<text x="19.6" y="5.0" font-size="18.6">1/2</text>
<text x="48.6" y="0" font-size="23.3">(GeV)</text>
</g>
<g transform="translate(22.9,180.4) rotate(-90) scale(0.970,1)" font-family="Liberation Serif, serif" font-weight="bold" fill="#111">
<text x="0" y="0" font-size="23.3">m</text>
<text x="18.6" y="6.0" font-size="19">0</text>
<text x="34.3" y="0" font-size="23.3">(GeV)</text>
</g>
</svg>
</body></html>
